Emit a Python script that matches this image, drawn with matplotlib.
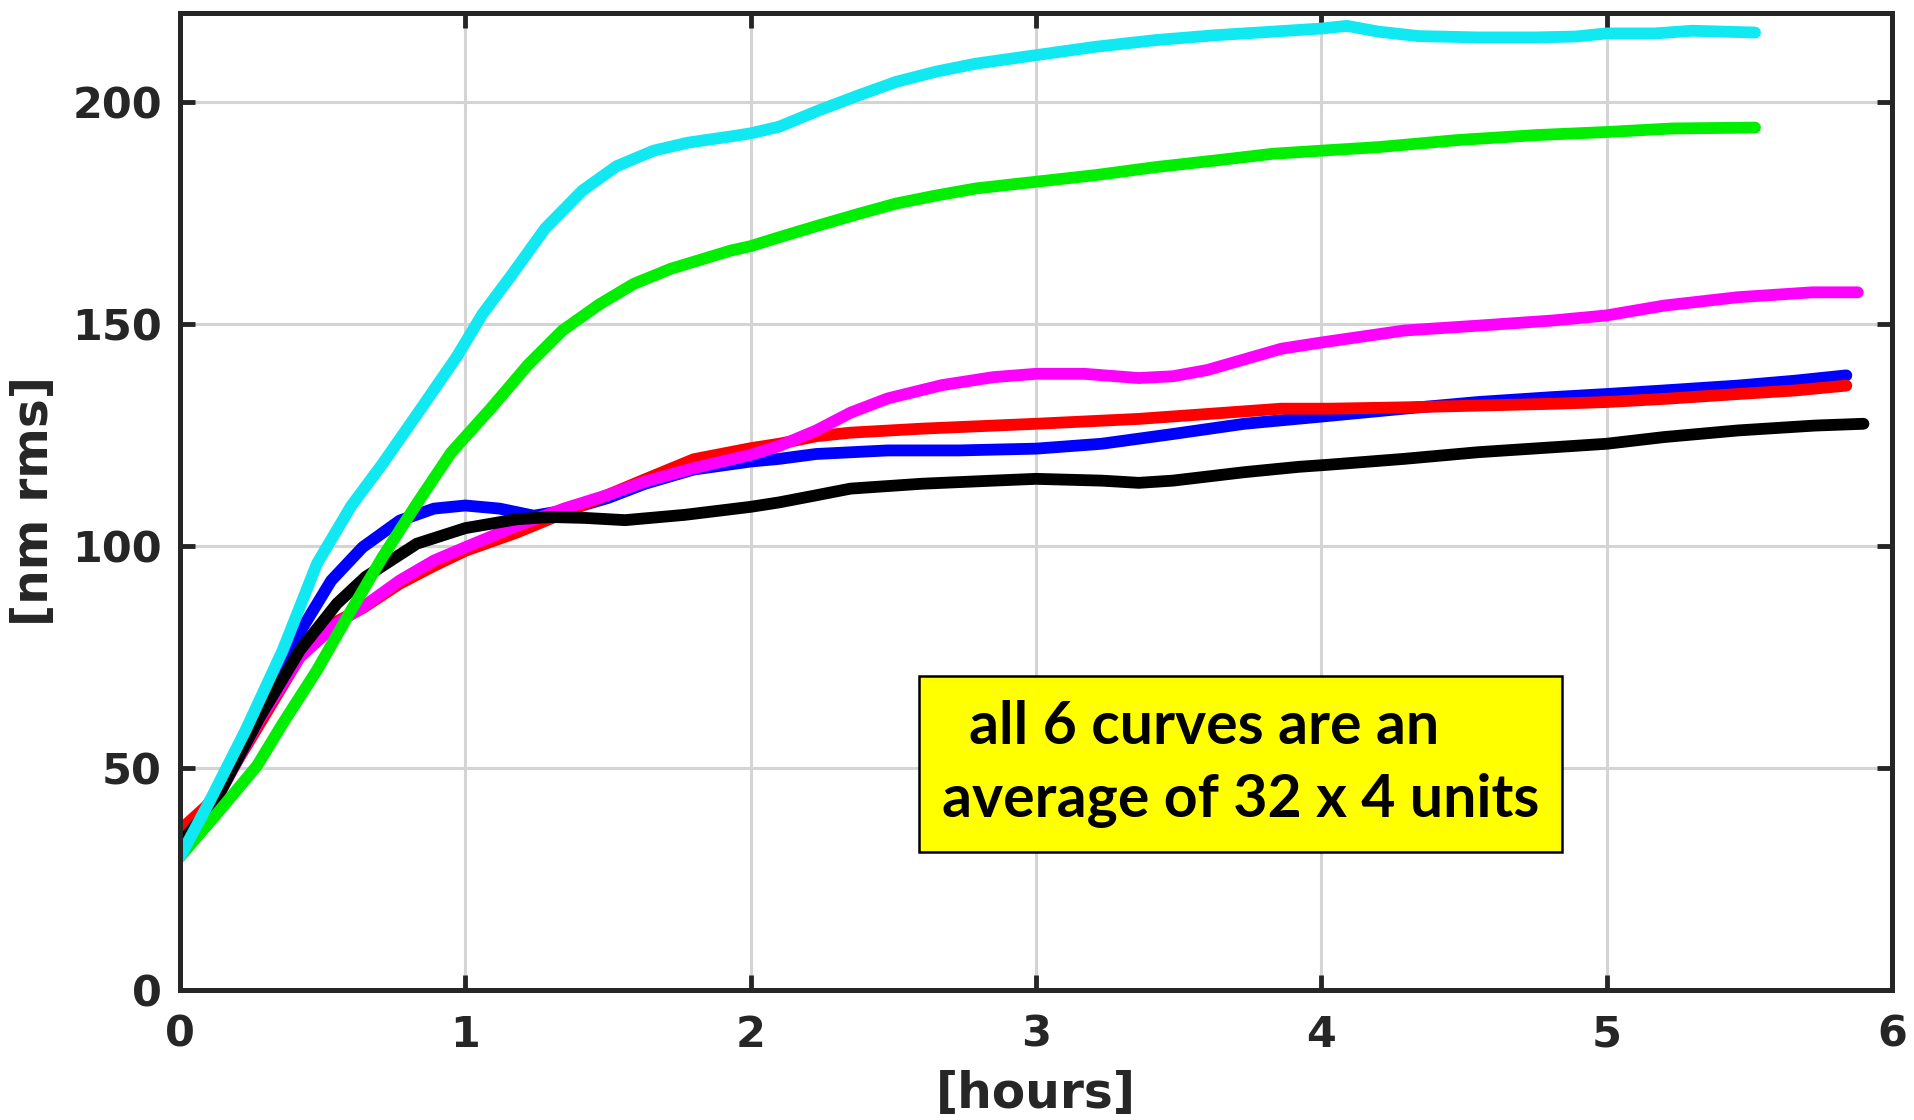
import matplotlib
matplotlib.use("Agg")
import matplotlib.pyplot as plt
from matplotlib.patches import Rectangle

# ---------------- data ----------------
cyan_h = [0, 0.1, 0.23, 0.36, 0.48, 0.6, 0.71, 0.84, 0.97, 1.06, 1.16, 1.28, 1.41, 1.53, 1.66, 1.78,
          1.93, 2.0, 2.1, 2.24, 2.38, 2.51, 2.65, 2.79, 3.0, 3.21, 3.42, 3.63, 3.83, 4.0, 4.09, 4.2,
          4.34, 4.55, 4.75, 4.89, 5.0, 5.17, 5.3, 5.52]
cyan_v = [30, 42, 58.5, 76.5, 96.0, 109.0, 118.5, 130.5, 142.6, 152.2, 160.8, 171.5, 180.0, 185.5,
          189.0, 190.8, 192.2, 192.9, 194.4, 198.1, 201.5, 204.5, 206.8, 208.6, 210.5, 212.4, 213.9,
          215, 215.8, 216.5, 217.1, 215.8, 214.8, 214.5, 214.5, 214.7, 215.4, 215.4, 216, 215.6]

green_h = [0, 0.14, 0.27, 0.36, 0.48, 0.6, 0.71, 0.83, 0.95, 1.09, 1.22, 1.34, 1.47, 1.59, 1.72,
           1.93, 2.0, 2.1, 2.24, 2.38, 2.51, 2.65, 2.79, 3.0, 3.21, 3.42, 3.63, 3.83, 4.0, 4.2, 4.48,
           4.75, 5.0, 5.23, 5.52]
green_v = [30, 40.5, 50.5, 60, 72, 85.5, 97.5, 109.5, 121, 131, 140.8, 148.5, 154.4, 159.0, 162.4,
           166.5, 167.5, 169.5, 172.2, 174.8, 177.1, 178.9, 180.5, 182, 183.5, 185.3, 186.8, 188.3,
           189, 189.8, 191.4, 192.5, 193.2, 194, 194.2]

blue_h = [0, 0.1, 0.2, 0.28, 0.41, 0.53, 0.64, 0.77, 0.89, 1.0, 1.12, 1.24, 1.35, 1.5, 1.63, 1.8,
          2.0, 2.1, 2.23, 2.48, 2.73, 3.0, 3.23, 3.48, 3.73, 3.98, 4.29, 4.55, 4.81, 5.0, 5.2, 5.46,
          5.66, 5.84]
blue_v = [32, 42, 52, 61.5, 79.5, 92.2, 99.7, 105.7, 108.4, 109.1, 108.4, 106.8, 108.0, 110.8, 114.0,
          117.2, 119.0, 119.6, 120.7, 121.5, 121.5, 121.9, 123, 125.2, 127.5, 129, 130.9, 132.4,
          133.5, 134.2, 135, 136.1, 137.2, 138.4]

red_h = [0, 0.12, 0.28, 0.42, 0.55, 0.64, 0.77, 0.89, 1.0, 1.18, 1.35, 1.5, 1.63, 1.8, 2.0, 2.1,
         2.23, 2.35, 2.6, 3.0, 3.36, 3.6, 3.86, 4.03, 4.29, 4.55, 4.81, 5.0, 5.2, 5.46, 5.66, 5.84]
red_v = [36, 43, 60, 75, 83, 86, 91.5, 95.5, 98.9, 103, 107.5, 111.5, 115.0, 119.5, 122.0, 123,
         124.7, 125.5, 126.4, 127.5, 128.6, 129.7, 130.9, 130.9, 131.2, 131.6, 132, 132.4, 133.1,
         134.2, 135, 136.1]

magenta_h = [0, 0.12, 0.28, 0.42, 0.55, 0.64, 0.77, 0.89, 1.0, 1.18, 1.35, 1.5, 1.63, 1.8, 2.0,
             2.1, 2.23, 2.35, 2.48, 2.67, 2.85, 3.0, 3.17, 3.36, 3.48, 3.6, 3.73, 3.86, 4.0, 4.29,
             4.55, 4.81, 5.0, 5.2, 5.46, 5.72, 5.88]
magenta_v = [33, 42, 61, 75, 82.5, 86.2, 92.2, 96.7, 99.7, 104.5, 108.5, 111.5, 114.5, 117.5, 120.5,
             122.5, 126.0, 130.0, 133.2, 136.2, 138.0, 138.75, 138.75, 137.8, 138.2, 139.6, 142.0,
             144.4, 145.8, 148.5, 149.6, 150.75, 151.9, 154.1, 156, 157.1, 157.1]

black_h = [0, 0.12, 0.28, 0.42, 0.55, 0.65, 0.83, 1.0, 1.18, 1.3, 1.42, 1.56, 1.77, 2.0, 2.1, 2.23,
           2.35, 2.6, 2.85, 3.0, 3.23, 3.36, 3.48, 3.73, 3.92, 4.03, 4.29, 4.55, 4.81, 5.0, 5.2,
           5.46, 5.73, 5.9]
black_v = [33, 42, 61.5, 76.5, 87, 93, 100.5, 104.0, 106.0, 106.5, 106.3, 105.8, 107.0, 108.8, 109.8,
           111.4, 112.9, 114, 114.7, 115.1, 114.7, 114.2, 114.7, 116.6, 117.8, 118.3, 119.6, 121.1,
           122.2, 123, 124.5, 126, 127.1, 127.5]

x_ticks = [0, 1, 2, 3, 4, 5, 6]
y_ticks = [0, 50, 100, 150, 200]
x_label = "[hours]"
y_label = "[nm rms]"
note_line1 = "all 6 curves are an"
note_line2 = "average of 32 x 4 units"

# ---------------- figure ----------------
DPI = 100
fig = plt.figure(figsize=(19.15, 11.2), dpi=DPI)
ax = fig.add_axes([180 / 1915, 1 - 990 / 1120, (1892 - 180) / 1915, (990 - 13) / 1120])

dark = "#262626"
lw = 8.5
series = [
    (blue_h, blue_v, "#0000ff"),
    (red_h, red_v, "#ff0000"),
    (magenta_h, magenta_v, "#ff00ff"),
    (black_h, black_v, "#000000"),
    (green_h, green_v, "#00ee00"),
    (cyan_h, cyan_v, "#10e8f2"),
]
for i, (h, v, c) in enumerate(series):
    ax.plot(h, v, color=c, lw=lw, solid_capstyle="round", solid_joinstyle="round", zorder=3 + i)

ax.set_xlim(0, 6)
ax.set_ylim(0, 220)
ax.set_xticks(x_ticks)
ax.set_yticks(y_ticks)
ax.grid(True, color="#d4d4d4", lw=2.2, zorder=0)
ax.set_axisbelow(True)

for s in ax.spines.values():
    s.set_linewidth(3.6)
    s.set_color(dark)
    s.set_zorder(20)

ax.tick_params(axis="both", which="major", direction="in", length=11, width=3.5,
               color=dark, top=True, right=True, labelsize=31, labelcolor=dark)
ax.tick_params(axis="x", pad=17)
ax.tick_params(axis="y", pad=13)
for lab in ax.get_xticklabels() + ax.get_yticklabels():
    lab.set_fontweight("bold")
    lab.set_fontfamily("DejaVu Sans")

ax.set_xlabel(x_label, fontsize=35, fontweight="bold", color=dark, va="center")
ax.set_ylabel(y_label, fontsize=35, fontweight="bold", color=dark, va="center")
ax.xaxis.set_label_coords(0.5, (990 - 1094) / 977)
ax.yaxis.set_label_coords((34 - 180) / 1712, 0.5)

# annotation box
box = Rectangle((2.589, 31.1), 4.844 - 2.589, 70.7 - 31.1, facecolor="#ffff00",
                edgecolor="black", lw=1.8, zorder=30)
ax.add_patch(box)
fs = 30
t1 = ax.text(2.765, 55.3, note_line1, fontsize=fs, fontweight="bold", family="Lato",
             va="baseline", ha="left", color="black", zorder=31)
t2 = ax.text(2.672, 38.9, note_line2, fontsize=fs, fontweight="bold", family="Lato",
             va="baseline", ha="left", color="black", zorder=31)
fig.canvas.draw()
r = fig.canvas.get_renderer()
w = t2.get_window_extent(r).width
scale = 596.0 / w
t1.set_fontsize(fs * scale)
t2.set_fontsize(fs * scale)

fig.savefig("out.png", dpi=DPI, facecolor="white")
